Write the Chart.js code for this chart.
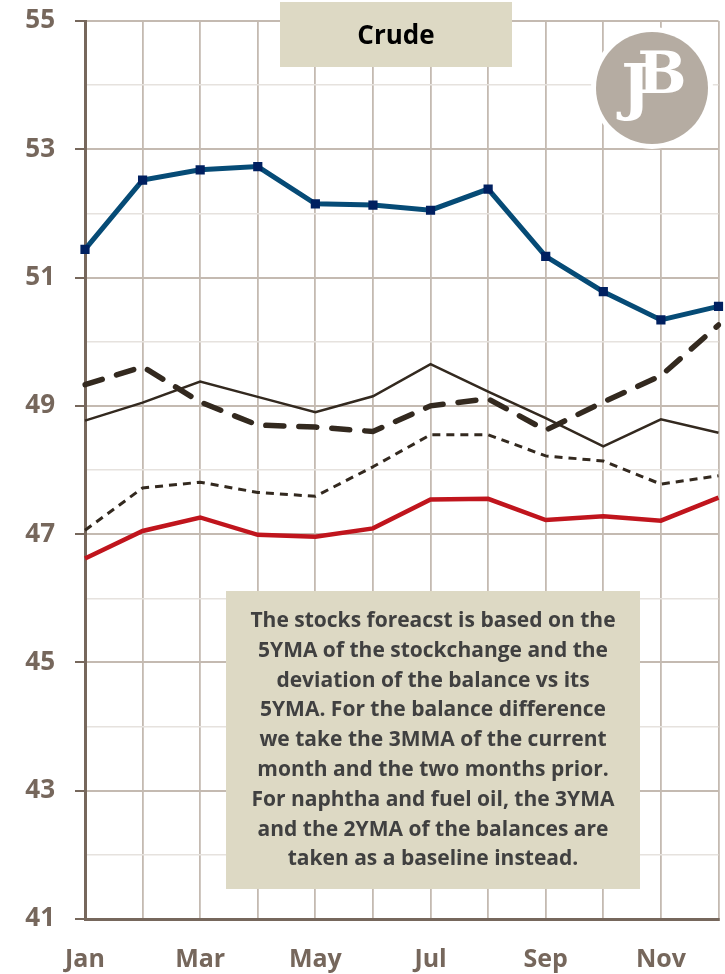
<!DOCTYPE html>
<html lang="en">
<head>
<meta charset="UTF-8">
<title>Crude</title>
<script src="https://cdn.jsdelivr.net/npm/chart.js"></script>
<style>
  html, body { margin: 0; padding: 0; background: #fff; }
  #wrap { width: 725px; height: 974px; position: relative; }
</style>
</head>
<body>
<div id="wrap"><canvas id="myChart" width="725" height="974"></canvas></div>

<script>
// data
var months = ["Jan", "Feb", "Mar", "Apr", "May", "Jun", "Jul", "Aug", "Sep", "Oct", "Nov", "Dec"];
var stocks = [51.44, 52.52, 52.68, 52.73, 52.15, 52.13, 52.05, 52.38, 51.33, 50.78, 50.34, 50.55];
var redLine = [46.62, 47.05, 47.26, 46.99, 46.96, 47.09, 47.54, 47.55, 47.22, 47.28, 47.21, 47.57];
var solidLine = [48.77, 49.05, 49.38, 49.14, 48.90, 49.15, 49.65, 49.22, 48.81, 48.37, 48.79, 48.58];
var shortDash = [47.06, 47.72, 47.81, 47.65, 47.59, 48.05, 48.55, 48.55, 48.22, 48.14, 47.78, 47.91];
var longDash = [49.33, 49.61, 49.06, 48.70, 48.67, 48.60, 49.00, 49.11, 48.62, 49.06, 49.47, 50.26];
var yMin = 41, yMax = 55;

var title = "Crude";
var note = [
  "The stocks foreacst is based on the",
  "5YMA of the stockchange and the",
  "deviation of the balance vs its",
  "5YMA. For the balance difference",
  "we take the 3MMA of the current",
  "month and the two months prior.",
  "For naphtha and fuel oil, the 3YMA",
  "and the 2YMA of the balances are",
  "taken as a baseline instead."
];

var axisCol = "#76675c";
var gridMajor = "#c4bab1";
var gridMinor = "#e6e2de";
var fontName = "'Open Sans'";

// boxes + logo drawn on top
var extras = {
  id: "extras",
  afterDraw: function(chart) {
    var c = chart.ctx;
    c.save();
    // title box
    c.fillStyle = "#ddd9c4";
    c.fillRect(280, 2, 232, 65);
    c.fillStyle = "#000";
    c.font = "bold 26px " + fontName;
    c.textAlign = "center";
    c.textBaseline = "middle";
    c.fillText(title, 396, 37);

    // logo
    c.fillStyle = "#fff";
    c.beginPath(); c.arc(652, 88, 61, 0, Math.PI * 2); c.fill();
    c.fillStyle = "#b5aca2";
    c.beginPath(); c.arc(652, 88, 56, 0, Math.PI * 2); c.fill();
    c.fillStyle = "#fff";
    c.font = "bold 62px 'DejaVu Serif'";
    c.fillText("J", 636, 92);
    c.font = "bold 58px 'DejaVu Serif'";
    c.fillText("B", 662, 78);

    // note box
    c.fillStyle = "#ddd9c4";
    c.fillRect(226, 591, 414, 298);
    c.fillStyle = "#404040";
    c.font = "bold 21px " + fontName;
    for (var i = 0; i < note.length; i++) {
      c.fillText(note[i], 433, 621 + i * 29.8);
    }
    c.restore();
  }
};

new Chart(document.getElementById("myChart"), {
  type: "line",
  data: {
    labels: months,
    datasets: [
      {
        data: stocks,
        borderColor: "#064b76",
        borderWidth: 5,
        pointStyle: "rect",
        pointRadius: 6.5,
        pointBackgroundColor: "#002060",
        pointBorderColor: "#002060",
        pointBorderWidth: 0,
        tension: 0
      },
      {
        data: redLine,
        borderColor: "#c0151d",
        borderWidth: 4.5,
        pointRadius: 0,
        tension: 0
      },
      {
        data: solidLine,
        borderColor: "#33291f",
        borderWidth: 2.5,
        pointRadius: 0,
        tension: 0
      },
      {
        data: shortDash,
        borderColor: "#33291f",
        borderWidth: 3,
        borderDash: [8, 6],
        pointRadius: 0,
        tension: 0
      },
      {
        data: longDash,
        borderColor: "#33291f",
        borderWidth: 5.5,
        borderDash: [18, 15],
        borderCapStyle: "round",
        pointRadius: 0,
        tension: 0
      }
    ]
  },
  options: {
    responsive: false,
    animation: false,
    layout: { padding: { top: 21, right: 4, left: 0, bottom: 0 } },
    plugins: { legend: { display: false }, tooltip: { enabled: false } },
    scales: {
      x: {
        offset: false,
        afterFit: function(s) { s.height = 55; s.paddingLeft = 0; s.paddingRight = 0; },
        grid: { color: gridMajor, lineWidth: 1.8, drawTicks: false, offset: false },
        border: { color: axisCol, width: 3 },
        ticks: {
          autoSkip: false,
          maxRotation: 0,
          padding: 26,
          color: axisCol,
          font: { family: "Open Sans", weight: "bold", size: 25 },
          callback: function(v, i) { return i % 2 === 0 ? months[i] : ""; }
        }
      },
      y: {
        min: yMin,
        max: yMax,
        afterFit: function(s) { s.width = 85; s.paddingTop = 0; s.paddingBottom = 0; },
        grid: {
          tickLength: 10,
          color: function(ctx) { return ctx.tick && ctx.tick.value % 2 !== 0 ? gridMajor : gridMinor; },
          tickColor: function(ctx) { return ctx.tick && ctx.tick.value % 2 !== 0 ? axisCol : "rgba(0,0,0,0)"; },
          lineWidth: function(ctx) { return ctx.tick && ctx.tick.value % 2 !== 0 ? 2 : 1.5; }
        },
        border: { color: axisCol, width: 3 },
        ticks: {
          stepSize: 1,
          padding: 20,
          color: axisCol,
          font: { family: "Open Sans", weight: "bold", size: 26 },
          callback: function(v) { return v % 2 !== 0 ? v : ""; }
        }
      }
    }
  },
  plugins: [extras]
});
</script>
</body>
</html>
